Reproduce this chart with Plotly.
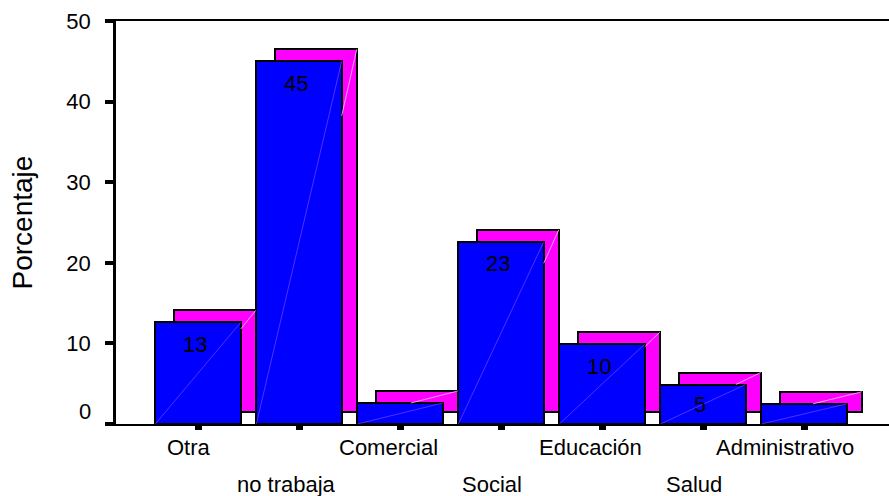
import plotly.graph_objects as go

# Occupation categories and their percentages
categorias = ["Otra", "no trabaja", "Comercial", "Social", "Educación", "Salud", "Administrativo"]
porcentajes = [12.6, 45.0, 2.6, 22.6, 9.9, 4.9, 2.5]
y_ticks = [0, 10, 20, 30, 40, 50]

FONT = "Liberation Sans, Arial, sans-serif"
BLUE = "#0000FF"
MAGENTA = "#FF00FF"

idx = list(range(len(categorias)))

# depth effect: back face shifted up/right relative to the front face
depth_y = 1.49
front_w = 0.845
front_off = -front_w / 2
back_off = front_off + 0.182
back_w = front_w - 0.182 + 0.149

fig = go.Figure()

# back (magenta) faces
fig.add_trace(go.Bar(
    x=idx, y=porcentajes, base=[depth_y] * len(idx),
    width=[back_w] * len(idx), offset=[back_off] * len(idx),
    marker=dict(color=MAGENTA, line=dict(color="black", width=2)),
    hoverinfo="skip", showlegend=False,
))
# front (blue) faces
fig.add_trace(go.Bar(
    x=idx, y=porcentajes,
    width=[front_w] * len(idx), offset=[front_off] * len(idx),
    marker=dict(color=BLUE, line=dict(color="black", width=2)),
    hoverinfo="skip", showlegend=False,
))

# faint facet diagonals on the faces
dx_f, dy_f, dx_b, dy_b = [], [], [], []
for i, v in zip(idx, porcentajes):
    bl, br = i + front_off, i + front_off + front_w
    dx_f += [bl, br, None]
    dy_f += [0, v, None]
    sl, sr = i + back_off, i + back_off + back_w
    x_at_v = sl + (v - depth_y) * (sr - sl) / v
    xs = min(br, x_at_v)
    ys = depth_y + v * (xs - sl) / (sr - sl)
    dx_b += [xs, sr, None]
    dy_b += [ys, v + depth_y, None]

fig.add_trace(go.Scatter(x=dx_f, y=dy_f, mode="lines",
                         line=dict(color="rgba(150,90,255,0.55)", width=1),
                         hoverinfo="skip", showlegend=False))
fig.add_trace(go.Scatter(x=dx_b, y=dy_b, mode="lines",
                         line=dict(color="rgba(255,200,255,0.8)", width=1),
                         hoverinfo="skip", showlegend=False))

annotations = []

# value labels inside the front faces (short bars stay unlabeled)
for i, v in zip(idx, porcentajes):
    if v < 4:
        continue
    annotations.append(dict(
        x=i, y=max(v - 2.73, v / 2), xref="x", yref="y",
        text=str(int(v + 0.5)), showarrow=False, xshift=-3,
        xanchor="center", yanchor="middle",
        font=dict(family=FONT, size=22, color="black"),
    ))

# staggered category labels under the axis
plot_h = 403
label_shift = [-9, -13, -12, -9, -12, -9, -19]
for i, name in enumerate(categorias):
    ypx = 448 if i % 2 == 0 else 484
    annotations.append(dict(
        x=i, y=-(ypx - 424) / plot_h, xref="x", yref="paper",
        text=name, showarrow=False, xshift=label_shift[i],
        xanchor="center", yanchor="middle",
        font=dict(family=FONT, size=22, color="black"),
    ))

# zero label sits at the level of the back faces
annotations.append(dict(
    x=(93 - 116) / 773, y=depth_y, xref="paper", yref="y",
    text=str(y_ticks[0]), showarrow=False, xanchor="right", yanchor="middle",
    font=dict(family=FONT, size=22, color="black"),
))

# axis title
annotations.append(dict(
    x=(22 - 116) / 773, y=0.5, xref="paper", yref="paper",
    text="Porcentaje", textangle=-90, showarrow=False,
    xanchor="center", yanchor="middle",
    font=dict(family=FONT, size=28, color="black"),
))

fig.update_layout(
    width=889, height=496,
    margin=dict(l=116, r=0, t=21, b=72),
    paper_bgcolor="white", plot_bgcolor="white",
    barmode="overlay", bargap=0,
    showlegend=False,
    annotations=annotations,
    xaxis=dict(
        range=[-0.812, 6.841], tickvals=idx, showticklabels=False,
        ticks="outside", ticklen=4, tickwidth=7, tickcolor="black",
        showline=True, linecolor="black", linewidth=2, mirror=True,
        showgrid=False, zeroline=False, fixedrange=True,
    ),
    yaxis=dict(
        range=[0, 50], tickvals=y_ticks,
        ticktext=[""] + [str(t) for t in y_ticks[1:]],
        ticks="outside", ticklen=8, tickwidth=4, tickcolor="black",
        ticklabelstandoff=10,
        tickfont=dict(family=FONT, size=22, color="black"),
        showline=True, linecolor="black", linewidth=2.5,
        showgrid=False, zeroline=False, fixedrange=True,
    ),
)

fig.write_html("out.html", config={"displayModeBar": False})
